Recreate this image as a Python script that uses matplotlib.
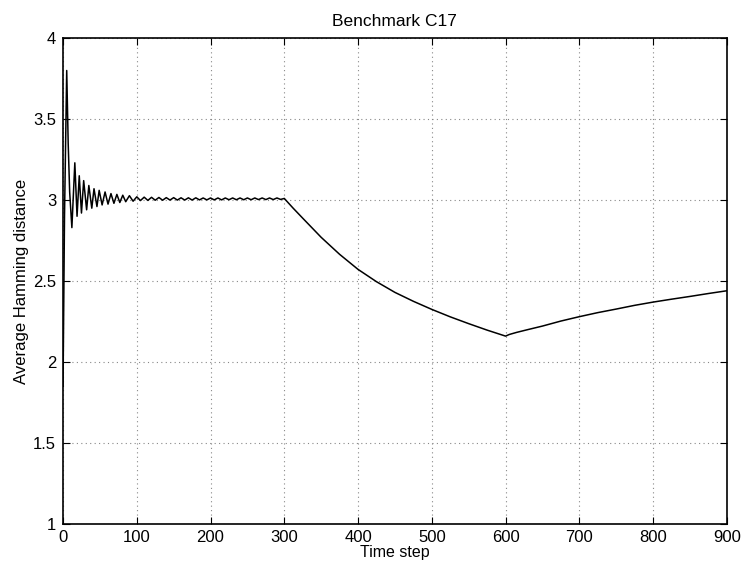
import matplotlib.pyplot as plt

# time steps and average Hamming distance
t_start = [0, 2, 5, 7, 9, 12, 16, 19, 22, 25, 28, 32, 35, 39, 42, 46, 49, 53, 57,
           61, 65, 69, 73, 77, 81, 85, 90, 95]
v_start = [1.85, 2.9, 3.8, 3.35, 3.05, 2.83, 3.23, 2.9, 3.15, 2.92, 3.12, 2.94,
           3.09, 2.95, 3.07, 2.96, 3.06, 2.97, 3.05, 2.975, 3.04, 2.98, 3.035,
           2.985, 3.03, 2.99, 3.027, 2.993]

t_flat = [100, 105, 110, 115, 120, 125, 130, 135, 140, 145, 150, 155, 160, 165,
          170, 175, 180, 185, 190, 195, 200, 205, 210, 215, 220, 225, 230, 235,
          240, 245, 250, 255, 260, 265, 270, 275, 280, 285, 290, 295, 300]
v_flat = [3.02, 2.997, 3.018, 2.998, 3.017, 2.999, 3.016, 2.999, 3.015, 3.0,
          3.015, 3.0, 3.014, 3.0, 3.014, 3.0, 3.014, 3.001, 3.013, 3.001,
          3.013, 3.001, 3.013, 3.001, 3.013, 3.002, 3.013, 3.002, 3.013, 3.002,
          3.013, 3.002, 3.013, 3.003, 3.013, 3.003, 3.013, 3.003, 3.013, 3.004,
          3.01]

t_decay = [305, 312, 325, 350, 375, 400, 425, 450, 475, 500, 525, 550, 575, 600]
v_decay = [2.985, 2.95, 2.888, 2.77, 2.665, 2.572, 2.496, 2.43, 2.375, 2.325,
           2.279, 2.237, 2.197, 2.16]

t_rise = [605, 615, 630, 650, 675, 700, 725, 750, 775, 800, 825, 850, 875, 900]
v_rise = [2.17, 2.183, 2.2, 2.222, 2.253, 2.28, 2.305, 2.327, 2.35, 2.37,
          2.388, 2.405, 2.423, 2.44]

t = t_start + t_flat + t_decay + t_rise
v = v_start + v_flat + v_decay + v_rise

plt.rcParams['font.family'] = ['Liberation Sans', 'DejaVu Sans']

fig = plt.figure(figsize=(7.45, 5.63), dpi=100)
ax = fig.add_axes([0.0846, 0.0693, 0.891, 0.863])
ax.plot(t, v, color='black', linewidth=1.1)

ax.set_xlim(0, 900)
ax.set_ylim(1, 4)
ax.set_xticks(range(0, 901, 100))
ax.set_yticks([1, 1.5, 2, 2.5, 3, 3.5, 4])
ax.set_yticklabels(['1', '1.5', '2', '2.5', '3', '3.5', '4'])
ax.tick_params(direction='in', top=True, right=True, labelsize=12, length=5)
ax.tick_params(axis='x', pad=4)
ax.tick_params(axis='y', pad=5)
ax.grid(True, linestyle=(0, (1, 3)), color='#888888', linewidth=0.8)
for s in ax.spines.values():
    s.set_linewidth(1.2)

ax.set_title('Benchmark C17', fontsize=12.5, pad=9)
ax.set_xlabel('Time step', fontsize=11.5, labelpad=0)
ax.set_ylabel('Average Hamming distance', fontsize=12, labelpad=3)

fig.savefig('out.png', dpi=100)
